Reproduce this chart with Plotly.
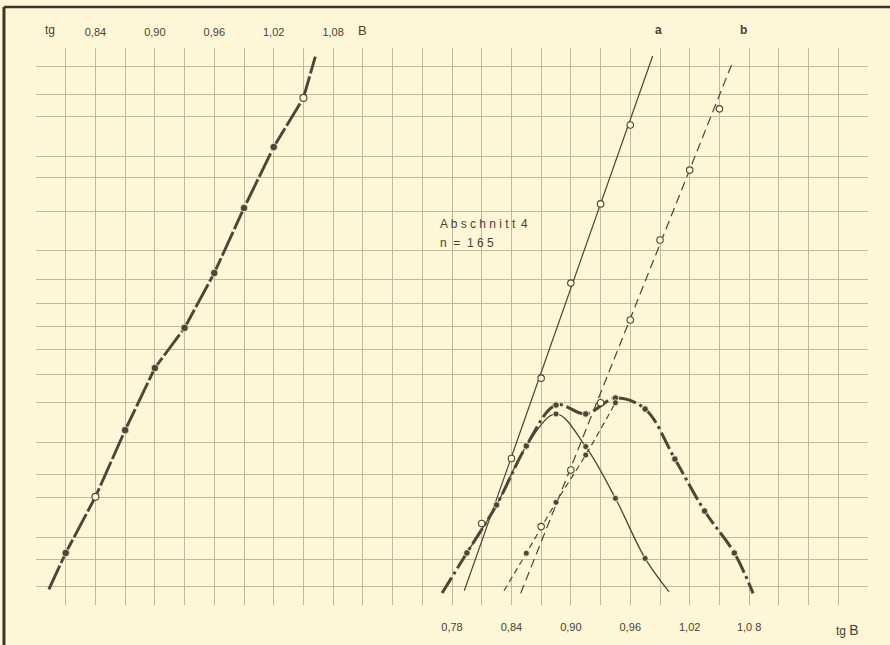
import plotly.graph_objects as go

# ---------------------------------------------------------------------------
# Left diagram: summation curve against tg B (upper scale)
left_tgb = [0.81, 0.84, 0.87, 0.90, 0.93, 0.96, 0.99, 1.02, 1.05]
left_val = [1.18, 3.12, 5.43, 7.58, 8.97, 10.87, 13.12, 15.23, 16.93]
left_open = [False, True, False, False, False, False, False, False, True]
left_end_tgb = [0.793, 1.062]
left_end_val = [-0.08, 18.36]

# Right diagram: frequency curves at class midpoints of tg B (lower scale)
mid_tgb = [0.795, 0.825, 0.855, 0.885, 0.915, 0.945, 0.975, 1.005, 1.035, 1.065]
total_val = [1.18, 2.84, 4.88, 6.30, 5.99, 6.54, 6.16, 4.43, 2.63, 1.18]
total_end_tgb = [0.770, 1.084]
total_end_val = [-0.21, -0.22]

comp_a_tgb = [0.795, 0.825, 0.855, 0.885, 0.915, 0.945, 0.975]
comp_a_val = [1.18, 2.84, 4.88, 5.99, 4.86, 3.07, 0.99]
comp_a_end = (0.999, -0.16)

comp_b_tgb = [0.855, 0.885, 0.915, 0.945]
comp_b_val = [1.17, 2.93, 4.57, 6.38]
comp_b_start = (0.8325, -0.13)

# Summation points of the two components with their straight lines a and b
a_tgb = [0.81, 0.84, 0.87, 0.90, 0.93, 0.96]
a_val = [2.20, 4.45, 7.23, 10.52, 13.26, 15.99]
line_a_tgb = [0.7924, 0.9826]
line_a_val = [-0.13, 18.38]

b_tgb = [0.87, 0.90, 0.93, 0.96, 0.99, 1.02, 1.05]
b_val = [2.09, 4.05, 6.38, 9.24, 12.01, 14.43, 16.55]
line_b_tgb = [0.8493, 1.0639]
line_b_val = [-0.22, 18.22]

# Scale labels
bottom_ticks = [0.78, 0.84, 0.90, 0.96, 1.02, 1.08]
bottom_text = ["0,78", "0,84", "0,90", "0,96", "1,02", "1,0 8"]
top_ticks = [0.84, 0.90, 0.96, 1.02, 1.08]
top_text = ["0,84", "0,90", "0,96", "1,02", "1,08"]

# ---------------------------------------------------------------------------
PAPER = "#fdf6d7"
GRID = "#c2b99d"
INK = "#4d4535"
TEXT = "#4a4232"
FONT = "Liberation Sans"

# graph-paper rulings
col_lines = [round(0.39 + 0.03 * i, 2) for i in range(27)]
row_lines = [0.01, 0.96, 1.72, 3.10, 3.88, 4.99, 6.38, 7.37, 8.23, 9.01,
             9.82, 10.63, 11.64, 12.99, 14.18, 14.89, 16.28, 17.06, 18.01]

fig = go.Figure()


def add_line(x, y, width, dash="solid", xaxis="x", shape="linear"):
    fig.add_trace(go.Scatter(
        x=x, y=y, mode="lines", xaxis=xaxis,
        line=dict(color=INK, width=width, dash=dash, shape=shape),
        hoverinfo="skip", showlegend=False))


def add_points(x, y, size, open_marker=False, xaxis="x"):
    fig.add_trace(go.Scatter(
        x=x, y=y, mode="markers", xaxis=xaxis,
        marker=dict(size=size, symbol="circle",
                    color=PAPER if open_marker else INK,
                    line=dict(color=INK if open_marker else PAPER,
                              width=1.1 if open_marker else 0.8)),
        showlegend=False))


# left summation curve (upper tg B scale)
add_line([left_end_tgb[0]] + left_tgb + [left_end_tgb[1]],
         [left_end_val[0]] + left_val + [left_end_val[1]],
         2.9, "26px,3px", xaxis="x2")
add_points([x for x, o in zip(left_tgb, left_open) if not o],
           [y for y, o in zip(left_val, left_open) if not o], 7.5, xaxis="x2")
add_points([x for x, o in zip(left_tgb, left_open) if o],
           [y for y, o in zip(left_val, left_open) if o], 7, True, xaxis="x2")

# straight lines a and b
add_line(line_a_tgb, line_a_val, 1.2)
add_line(line_b_tgb, line_b_val, 1.2, "9px,5px")

# component curves
add_line(comp_a_tgb + [comp_a_end[0]], comp_a_val + [comp_a_end[1]], 1.3,
         shape="spline")
add_line([comp_b_start[0]] + comp_b_tgb, [comp_b_start[1]] + comp_b_val, 1.2,
         "6px,4px", shape="spline")

# total frequency curve
add_line([total_end_tgb[0]] + mid_tgb + [total_end_tgb[1]],
         [total_end_val[0]] + total_val + [total_end_val[1]],
         3.0, "18px,4px,3px,4px", shape="spline")

add_points(mid_tgb, total_val, 6.5)
add_points(comp_a_tgb[3:], comp_a_val[3:], 6)
add_points(comp_b_tgb, comp_b_val, 6)
add_points(a_tgb, a_val, 6.5, True)
add_points(b_tgb, b_val, 6.5, True)

tick_font = dict(family=FONT, size=11, color=TEXT)

fig.update_layout(
    width=890, height=645,
    margin=dict(l=36, r=22, t=48, b=40),
    paper_bgcolor=PAPER, plot_bgcolor=PAPER,
    showlegend=False,
    xaxis=dict(
        range=[0.36, 1.20], tickvals=col_lines,
        ticktext=[bottom_text[bottom_ticks.index(v)] if v in bottom_ticks else ""
                  for v in col_lines],
        showgrid=True, gridcolor=GRID, gridwidth=1,
        zeroline=False, showline=False, ticks="",
        ticklabelstandoff=14, tickfont=tick_font),
    xaxis2=dict(
        range=[0.78, 1.62], overlaying="x", side="top",
        tickvals=top_ticks, ticktext=top_text,
        showgrid=False, zeroline=False, showline=False, ticks="",
        ticklabelstandoff=9, tickfont=tick_font),
    yaxis=dict(
        range=[-0.623, 18.657], tickvals=row_lines, showticklabels=False,
        showgrid=True, gridcolor=GRID, gridwidth=1,
        zeroline=False, showline=False, ticks=""),
)

# scale names and curve letters
fig.add_annotation(x=0.794, y=1.0, xref="x2", yref="paper", yanchor="bottom",
                   yshift=9, text="tg", showarrow=False,
                   font=dict(family=FONT, size=12, color=TEXT))
fig.add_annotation(x=1.11, y=1.0, xref="x2", yref="paper", yanchor="bottom",
                   yshift=8, text="B", showarrow=False,
                   font=dict(family=FONT, size=13, color=TEXT))
fig.add_annotation(x=1.1798, y=0.0, xref="x", yref="paper", yanchor="top",
                   yshift=-15, text="tg <span style='font-size:14px'>B</span>",
                   showarrow=False,
                   font=dict(family=FONT, size=12, color=TEXT))
fig.add_annotation(x=0.988, y=1.0, xref="x", yref="paper", yanchor="bottom",
                   yshift=9, text="<b>a</b>", showarrow=False,
                   font=dict(family=FONT, size=12, color=TEXT))
fig.add_annotation(x=1.0748, y=1.0, xref="x", yref="paper", yanchor="bottom",
                   yshift=9, text="<b>b</b>", showarrow=False,
                   font=dict(family=FONT, size=12, color=TEXT))

# section caption
caption_font = dict(family=FONT, size=12, color=TEXT)
fig.add_annotation(x=0.766, y=12.56, xref="x", yref="y", xanchor="left",
                   text="A b s c h n i t t", showarrow=False, font=caption_font)
fig.add_annotation(x=0.853, y=12.56, xref="x", yref="y", xanchor="center",
                   text="4", showarrow=False, font=caption_font)
fig.add_annotation(x=0.766, y=11.91, xref="x", yref="y", xanchor="left",
                   text="n  =  1 6 5", showarrow=False, font=caption_font)

# sheet edge along the top and the left side
fig.add_shape(type="line", xref="paper", yref="paper",
              x0=-0.0385, x1=1.03, y0=1.0736, y1=1.0736,
              line=dict(color="#3c3528", width=2.5), layer="below")
fig.add_shape(type="line", xref="paper", yref="paper",
              x0=-0.0385, x1=-0.0385, y0=-0.08, y1=1.0736,
              line=dict(color="#3c3528", width=3), layer="below")

fig.write_html("out.html")
